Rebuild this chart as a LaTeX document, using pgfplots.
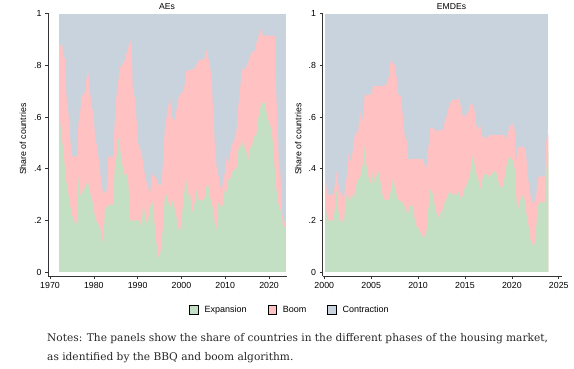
\documentclass[border=0pt]{standalone}
\usepackage{fontspec}
\setmainfont{Liberation Sans}
\newfontfamily\notefont{DejaVu Serif}
\usepackage{pgfplots}
\pgfplotsset{compat=1.18}
\usepackage{pgfplotstable}
\definecolor{expc}{RGB}{196,224,196}
\definecolor{boomc}{RGB}{255,193,193}
\definecolor{conc}{RGB}{200,211,222}

\pgfplotstableread{
year g p
1972.1 0.62 0.88
1972.5 0.55 0.88
1972.8 0.50 0.88
1973.0 0.48 0.83
1973.4 0.40 0.83
1973.8 0.34 0.67
1974.2 0.30 0.62
1974.6 0.26 0.52
1975.0 0.22 0.447
1975.5 0.20 0.447
1975.9 0.17 0.447
1976.2 0.21 0.45
1976.5 0.37 0.58
1976.9 0.30 0.62
1977.2 0.29 0.69
1977.6 0.33 0.68
1978.0 0.32 0.70
1978.4 0.35 0.76
1978.7 0.34 0.78
1979.1 0.31 0.70
1979.5 0.29 0.64
1979.9 0.25 0.62
1980.3 0.21 0.52
1980.8 0.19 0.48
1981.4 0.175 0.40
1981.8 0.14 0.33
1982.2 0.10 0.306
1982.5 0.24 0.306
1982.9 0.25 0.31
1983.3 0.26 0.447
1983.9 0.26 0.447
1984.4 0.26 0.447
1984.8 0.41 0.59
1985.2 0.445 0.69
1985.6 0.52 0.74
1985.9 0.50 0.795
1986.3 0.43 0.795
1986.7 0.40 0.81
1987.1 0.37 0.82
1987.5 0.38 0.85
1987.9 0.34 0.87
1988.2 0.20 0.893
1988.6 0.20 0.893
1988.9 0.20 0.705
1989.4 0.20 0.67
1989.8 0.20 0.58
1990.1 0.20 0.50
1990.5 0.20 0.48
1990.9 0.16 0.46
1991.3 0.29 0.42
1991.7 0.21 0.37
1992.0 0.19 0.35
1992.4 0.20 0.33
1992.8 0.24 0.29
1993.2 0.28 0.37
1993.5 0.26 0.38
1993.9 0.18 0.37
1994.3 0.11 0.36
1994.7 0.06 0.34
1995.1 0.06 0.33
1995.5 0.12 0.35
1995.8 0.18 0.43
1996.2 0.29 0.55
1996.6 0.30 0.60
1997.0 0.27 0.64
1997.4 0.25 0.68
1997.8 0.27 0.60
1998.1 0.28 0.59
1998.5 0.24 0.59
1998.9 0.21 0.63
1999.3 0.17 0.67
1999.6 0.14 0.69
2000.0 0.20 0.69
2000.4 0.27 0.70
2000.8 0.33 0.73
2001.1 0.36 0.777
2001.5 0.29 0.78
2001.9 0.32 0.783
2002.3 0.24 0.783
2002.7 0.23 0.785
2003.1 0.28 0.79
2003.4 0.32 0.80
2003.8 0.28 0.815
2004.2 0.28 0.82
2004.6 0.28 0.82
2005.0 0.27 0.825
2005.3 0.29 0.828
2005.7 0.33 0.86
2006.1 0.34 0.83
2006.5 0.29 0.796
2006.9 0.27 0.757
2007.2 0.24 0.63
2007.6 0.19 0.50
2008.0 0.16 0.41
2008.4 0.27 0.38
2008.8 0.26 0.34
2009.2 0.24 0.305
2009.5 0.27 0.36
2009.9 0.32 0.38
2010.3 0.31 0.445
2010.7 0.36 0.42
2011.0 0.35 0.44
2011.4 0.38 0.49
2011.8 0.39 0.50
2012.2 0.40 0.52
2012.6 0.40 0.55
2012.9 0.46 0.63
2013.3 0.50 0.69
2013.7 0.47 0.77
2014.1 0.52 0.795
2014.5 0.47 0.78
2014.8 0.47 0.795
2015.2 0.42 0.81
2015.6 0.49 0.83
2016.0 0.47 0.854
2016.4 0.52 0.854
2016.8 0.53 0.854
2017.1 0.53 0.886
2017.5 0.59 0.905
2017.9 0.63 0.938
2018.3 0.655 0.938
2018.5 0.655 0.918
2019.0 0.655 0.915
2019.4 0.62 0.915
2019.8 0.59 0.915
2020.6 0.55 0.915
2021.0 0.47 0.915
2021.3 0.40 0.915
2021.5 0.34 0.757
2022.1 0.267 0.50
2022.4 0.24 0.29
2022.6 0.24 0.40
2022.8 0.24 0.267
2023.2 0.175 0.20
2023.8 0.175 0.19
}\aes

\pgfplotstableread{
year g p
2000.1 0.29 0.40
2000.3 0.20 0.30
2000.7 0.20 0.30
2001.0 0.20 0.30
2001.3 0.32 0.39
2001.5 0.24 0.34
2001.7 0.20 0.31
2001.9 0.195 0.30
2002.1 0.19 0.28
2002.2 0.25 0.32
2002.4 0.30 0.37
2002.55 0.30 0.46
2002.7 0.25 0.43
2002.9 0.32 0.43
2003.1 0.27 0.49
2003.3 0.32 0.54
2003.6 0.36 0.54
2003.8 0.36 0.63
2004.0 0.40 0.57
2004.2 0.43 0.62
2004.3 0.49 0.686
2004.5 0.41 0.686
2004.7 0.37 0.686
2004.9 0.34 0.686
2005.1 0.36 0.70
2005.2 0.40 0.72
2005.4 0.34 0.72
2005.6 0.38 0.72
2005.75 0.39 0.72
2005.9 0.37 0.72
2006.1 0.32 0.72
2006.3 0.28 0.72
2006.6 0.28 0.725
2006.9 0.28 0.757
2007.0 0.30 0.80
2007.2 0.33 0.83
2007.3 0.36 0.81
2007.5 0.33 0.80
2007.7 0.30 0.757
2007.85 0.28 0.69
2008.0 0.28 0.685
2008.2 0.27 0.68
2008.4 0.27 0.59
2008.6 0.25 0.52
2008.8 0.23 0.51
2008.95 0.227 0.437
2009.1 0.27 0.437
2009.3 0.24 0.437
2009.5 0.27 0.437
2009.6 0.21 0.437
2009.8 0.18 0.437
2010.0 0.17 0.437
2010.2 0.16 0.437
2010.35 0.14 0.437
2010.5 0.137 0.437
2010.7 0.137 0.415
2010.9 0.16 0.40
2011.0 0.21 0.46
2011.2 0.28 0.51
2011.3 0.32 0.557
2011.6 0.30 0.557
2011.8 0.25 0.55
2012.0 0.227 0.54
2012.1 0.20 0.55
2012.3 0.227 0.55
2012.5 0.227 0.55
2012.7 0.25 0.55
2012.8 0.266 0.575
2013.0 0.28 0.60
2013.2 0.30 0.63
2013.4 0.32 0.65
2013.5 0.30 0.66
2013.7 0.30 0.667
2014.1 0.30 0.667
2014.2 0.32 0.672
2014.4 0.30 0.672
2014.6 0.28 0.63
2014.8 0.30 0.596
2014.9 0.32 0.60
2015.1 0.33 0.61
2015.3 0.35 0.61
2015.5 0.37 0.64
2015.7 0.42 0.655
2015.9 0.467 0.64
2016.0 0.42 0.63
2016.2 0.38 0.57
2016.4 0.36 0.55
2016.6 0.33 0.575
2016.7 0.32 0.55
2016.9 0.37 0.52
2017.1 0.38 0.52
2017.3 0.38 0.52
2017.4 0.36 0.52
2017.6 0.38 0.53
2017.8 0.37 0.53
2018.0 0.39 0.53
2018.3 0.39 0.53
2018.5 0.36 0.53
2018.7 0.33 0.53
2019.0 0.33 0.53
2019.2 0.36 0.53
2019.35 0.40 0.505
2019.5 0.42 0.53
2019.75 0.45 0.56
2020.0 0.44 0.576
2020.1 0.43 0.57
2020.3 0.40 0.55
2020.4 0.32 0.42
2020.6 0.227 0.48
2020.8 0.27 0.485
2021.0 0.29 0.485
2021.2 0.30 0.485
2021.3 0.29 0.485
2021.5 0.24 0.46
2021.7 0.19 0.37
2021.9 0.16 0.32
2022.0 0.12 0.29
2022.2 0.105 0.27
2022.4 0.105 0.27
2022.6 0.175 0.30
2022.75 0.25 0.36
2022.9 0.27 0.37
2023.3 0.27 0.37
2023.5 0.27 0.37
2023.65 0.38 0.50
2023.8 0.467 0.54
2023.9 0.467 0.53
}\emdes

\pgfplotsset{panel/.style={
  scale only axis, width=239pt, height=263pt, anchor=south west,
  axis lines*=left,
  axis line style={black!80, line width=0.7pt, -},
  ymin=-0.0155, ymax=1.003,
  ytick={0,0.2,0.4,0.6,0.8,1}, yticklabels={0,.2,.4,.6,.8,1},
  tick align=outside, major tick length=3pt,
  tick style={black!80, line width=0.6pt},
  tick label style={font=\fontsize{8.8}{10}\selectfont},
  every axis title/.style={font=\fontsize{8.6}{10}\selectfont, anchor=center, inner sep=0pt},
  ylabel style={font=\fontsize{8.8}{10}\selectfont, rotate=0, anchor=center},
  ylabel={Share of countries},
}}

\begin{document}
\begin{tikzpicture}
\path[use as bounding box] (0,0) rectangle (574pt,369pt);

\begin{axis}[panel, at={(48pt,93pt)},
  xmin=1969.54, xmax=2024.1,
  xtick={1970,1980,1990,2000,2010,2020},
  xticklabels={1970,1980,1990,2000,2010,2020},
  title={AEs}, title style={at={(axis description cs:0.498,1.023)}},
  ylabel style={at={(axis description cs:-0.105,0.52)}},
  legend style={at={(1.0126,-0.129)}, anchor=center, draw=none, fill=none,
    legend columns=3, font=\fontsize{9}{10}\selectfont,
    /tikz/every even column/.append style={column sep=19pt}},
  legend image code/.code={\draw[#1,draw=black,line width=0.6pt] (0pt,-4.2pt) rectangle (8.8pt,4.6pt); \path (12.8pt,0pt);},
]
\addlegendimage{fill=expc}\addlegendentry{Expansion}
\addlegendimage{fill=boomc}\addlegendentry{Boom}
\addlegendimage{fill=conc}\addlegendentry{Contraction}
\addplot[draw=none, fill=conc, forget plot] coordinates {(1972.1,1) (2023.8,1)} \closedcycle;
\addplot[draw=none, fill=boomc, forget plot] table[x=year,y=p]{\aes} \closedcycle;
\addplot[draw=none, fill=expc, forget plot] table[x=year,y=g]{\aes} \closedcycle;
\end{axis}

\begin{axis}[panel, at={(322.5pt,93pt)},
  xmin=1999.81, xmax=2025.29,
  xtick={2000,2005,2010,2015,2020,2025},
  xticklabels={2000,2005,2010,2015,2020,2025},
  title={EMDEs}, title style={at={(axis description cs:0.54,1.023)}},
  ylabel style={at={(axis description cs:-0.102,0.52)}},
]
\addplot[draw=none, fill=conc] coordinates {(2000.1,1) (2023.9,1)} \closedcycle;
\addplot[draw=none, fill=boomc] table[x=year,y=p]{\emdes} \closedcycle;
\addplot[draw=none, fill=expc] table[x=year,y=g]{\emdes} \closedcycle;
\end{axis}

\node[anchor=base west, inner sep=0pt, text=black!85, font=\notefont\fontsize{10.6}{12}\selectfont] at (47pt,27pt) {Notes: The panels show the share of countries in the different phases of the housing market,};
\node[anchor=base west, inner sep=0pt, text=black!85, font=\notefont\fontsize{10.6}{12}\selectfont] at (47pt,8pt) {as identified by the BBQ and boom algorithm.};
\end{tikzpicture}
\end{document}
